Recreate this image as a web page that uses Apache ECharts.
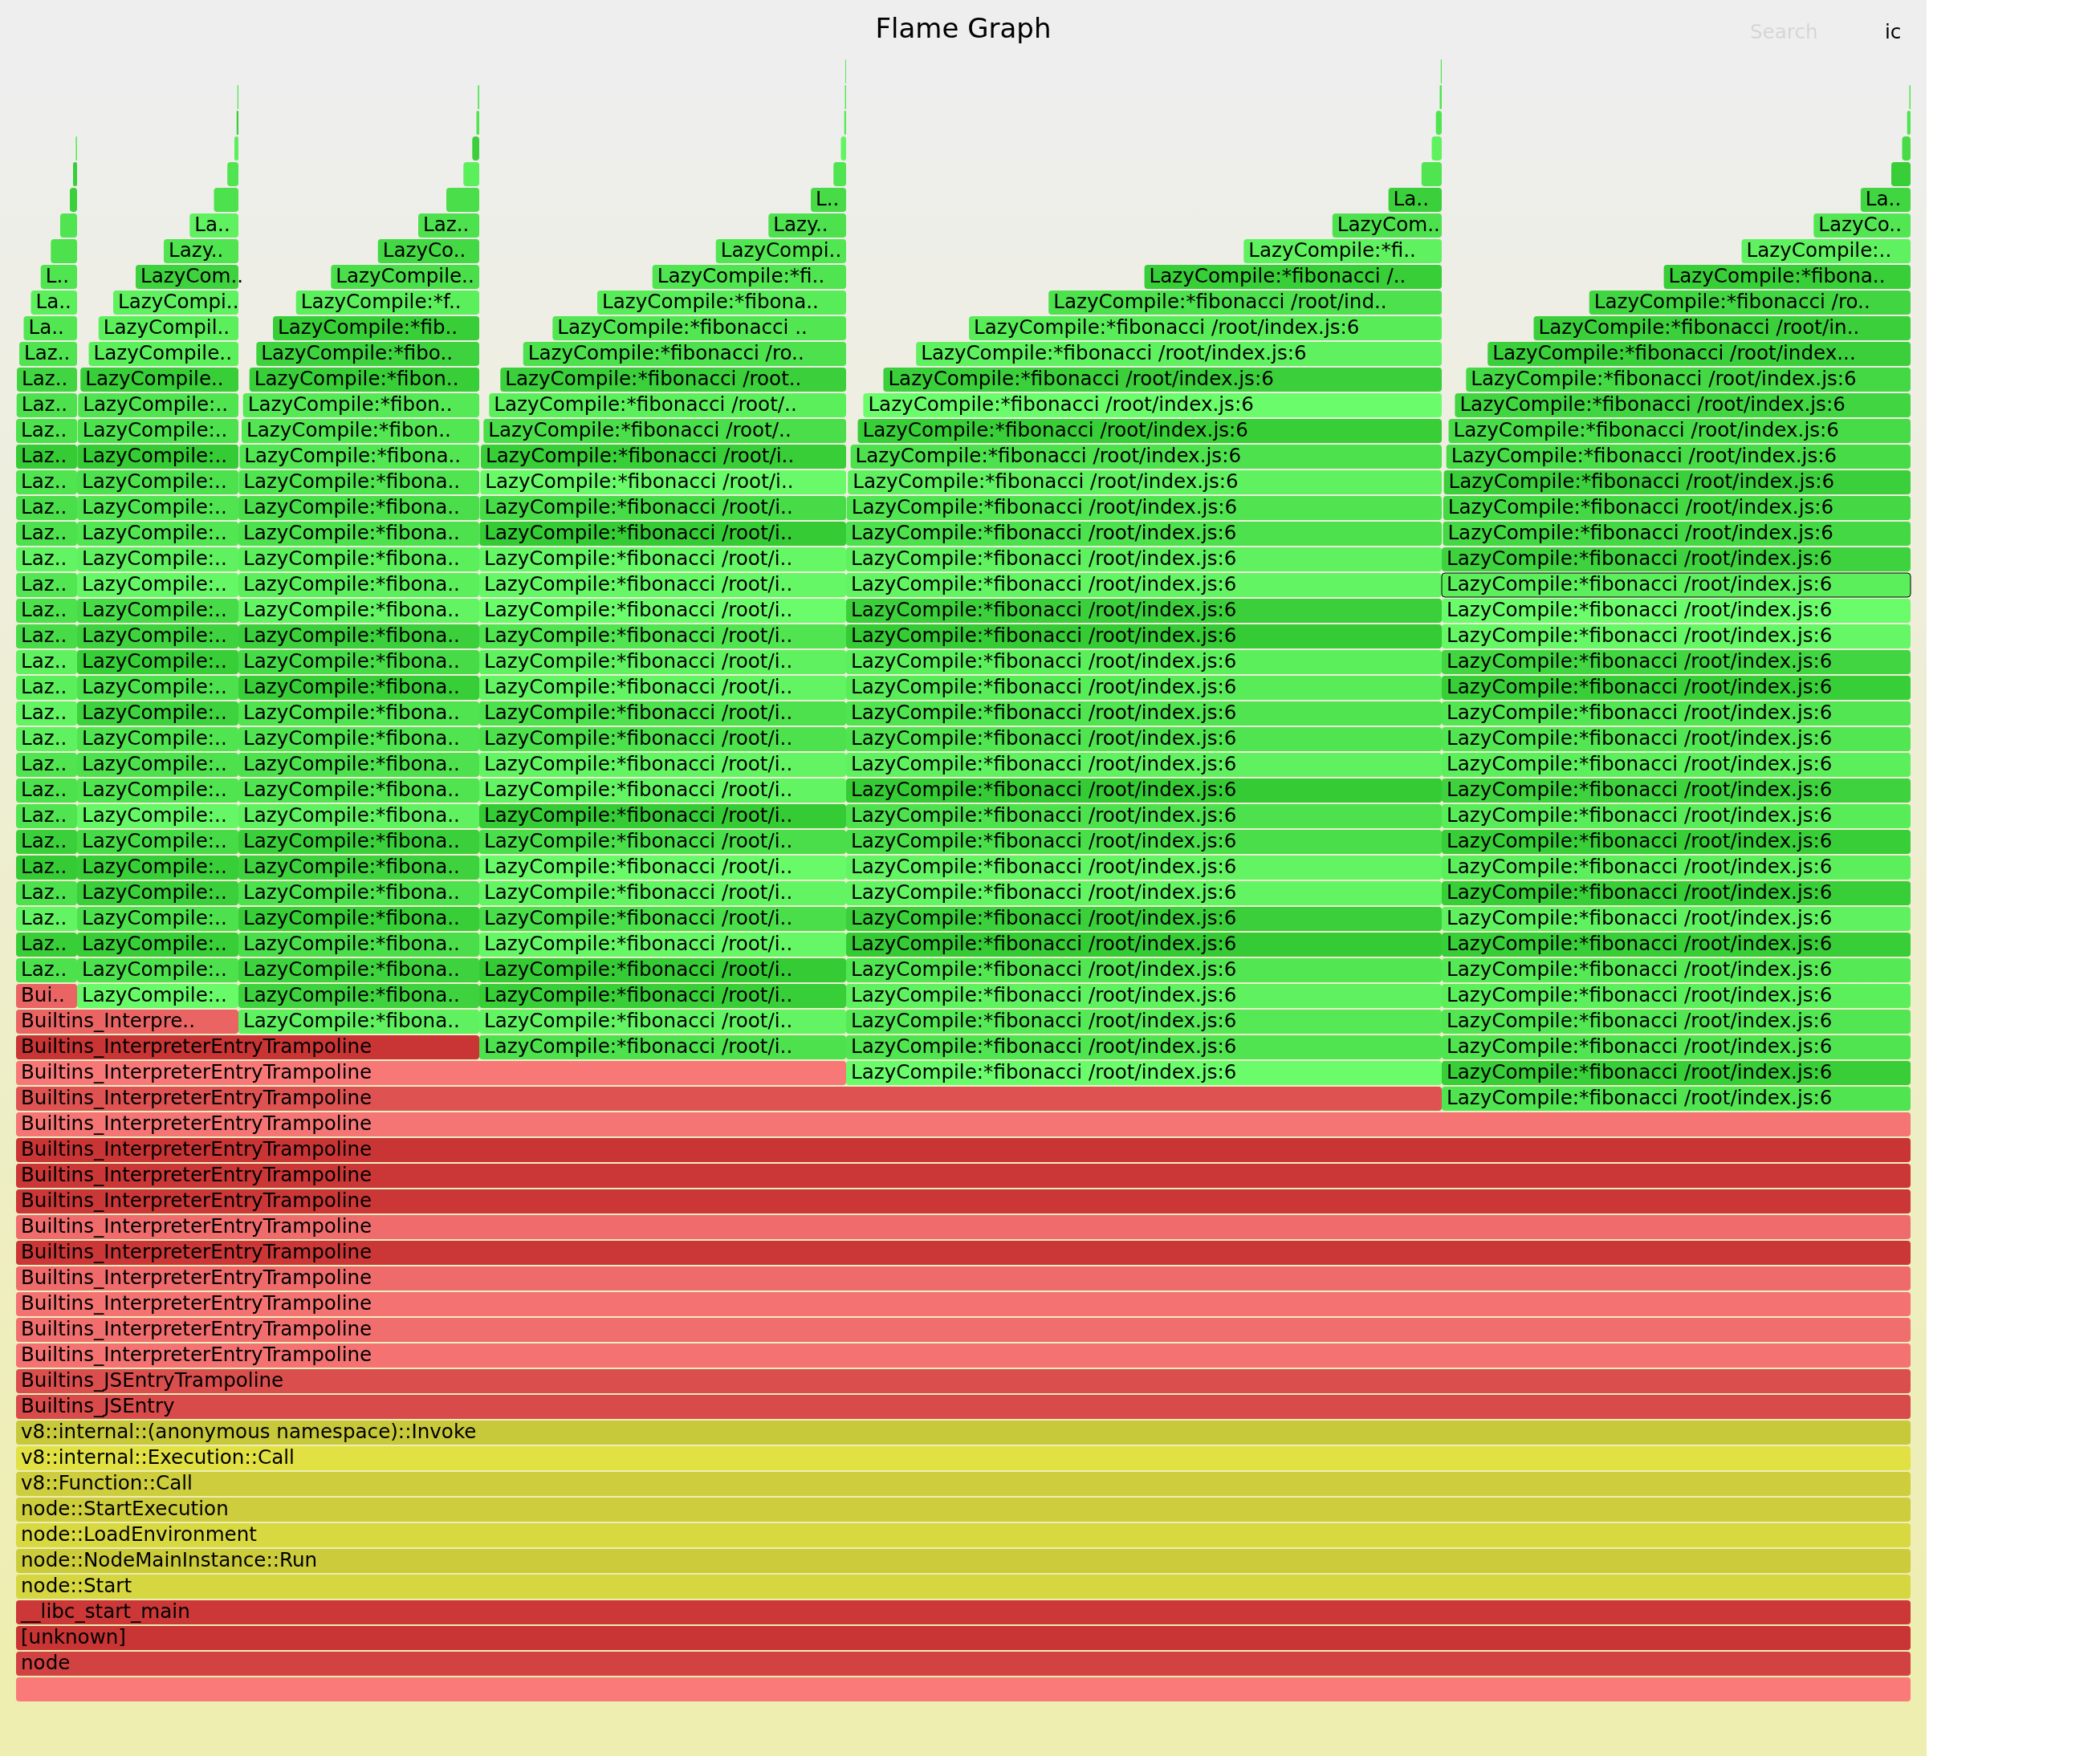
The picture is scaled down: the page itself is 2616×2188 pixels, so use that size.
<!DOCTYPE html>
<html><head><meta charset="utf-8">
<script src="https://cdn.jsdelivr.net/npm/echarts@6/dist/echarts.min.js"></script>
<style>html,body{margin:0;padding:0;background:#ffffff;}#chart{width:2616px;height:2188px;}</style>
</head><body><div id="chart"></div>
<script>
// ---- data (sample positions, total samples = 2360) ----
const TOTAL_SAMPLES = 2360;
const MAX_DEPTH = 64;
const FIB_NAME = 'LazyCompile:*fibonacci /root/index.js:6';
const INTERP_NAME = 'Builtins_InterpreterEntryTrampoline';

const baseNames = ['', 'node', '[unknown]', '__libc_start_main', 'node::Start',
  'node::NodeMainInstance::Run', 'node::LoadEnvironment', 'node::StartExecution',
  'v8::Function::Call', 'v8::internal::Execution::Call',
  'v8::internal::(anonymous namespace)::Invoke', 'Builtins_JSEntry', 'Builtins_JSEntryTrampoline'];
const baseKinds = ['red','red','red','red','yellow','yellow','yellow','yellow','yellow','yellow','yellow','red','red'];
const baseShades = [0.9,0.2,0.02,0.08,0.7,0.5,0.75,0.55,0.55,0.9,0.45,0.3,0.35];

const interpFirstDepth = 13;
const interpEnds = [2360,2360,2360,2360,2360,2360,2360,2360,2360,2360,1776,1034,577,277,76];
const interpShades = [0.8,0.75,0.8,0.7,0.05,0.72,0.05,0.05,0.02,0.82,0.4,0.88,0.02,0.62,0.62];

const towerFirstDepth = [28,27,26,25,24,23];
const towerEnds = [76,277,577,1034,1776,2360];

const towerAStarts = [
 0,0,0,0,0,0,0,0,0,0,
 0,0,0,0,0,0,0,0,0,0,
 0,0,0.7,1,4,9.5,18.5,30.7,43.3,55,
 67,71,74.3];
const towerAShades = [0.45,0.1,0.8,0.45,0.05,0.15,0.5,0.45,0.5,0.75,0.8,0.7,0.75,0.35,0.45,0.55,0.8,0.45,0.4,0.5,0.05,0.45,0.45,0.25,0.5,0.55,0.7,0.5,0.45,0.5,0.15,0.1,0.7];

const towerBStarts = [
 76,76,76,76,76,76,76,76,76,76,
 76,76,76,76,76,76,76,76,76,76,
 76,76.3,76.7,77.3,80.2,90.5,102.8,121,149,184,
 216.3,246.5,263.2,272,274.8,275.8];
const towerBShades = [0.9,0.45,0.1,0.45,0.15,0.1,0.35,0.85,0.5,0.45,0.5,0.2,0.45,0.1,0.2,0.35,0.85,0.75,0.55,0.5,0.45,0.05,0.45,0.5,0.1,0.7,0.7,0.75,0.2,0.5,0.75,0.45,0.5,0.7,0.1,0.5];

const towerCStarts = [
 277,277,277,277,277,277,277,277,277,277,
 277,277,277,277,277,277,277,277,277,277,
 277,277.3,278.3,281,282.7,290.7,299.3,320,348.7,392.3,
 450.7,501,536,557.3,568.3,573.5,575.3];
const towerCShades = [0.75,0.2,0.2,0.4,0.1,0.45,0.2,0.15,0.75,0.5,0.45,0.5,0.5,0.1,0.35,0.15,0.8,0.7,0.7,0.45,0.4,0.5,0.55,0.55,0.6,0.1,0.2,0.1,0.7,0.4,0.3,0.45,0.4,0.7,0.15,0.5,0.5];

const towerDStarts = [
 577,577,577,577,577,577,577,577,577,577,
 577,577,577,577,577,577,577,577,577,577,
 577.3,577.5,578.3,579,582.3,589.3,603.3,631.7,668.3,724,
 792.7,871.7,937.3,990,1018.3,1027.5,1031.7,1032.5,1033];
const towerDShades = [0.45,0.8,0.1,0.05,0.85,0.4,0.8,0.9,0.4,0.05,0.8,0.8,0.45,0.45,0.8,0.75,0.5,0.95,0.85,0.85,0.05,0.35,0.9,0.1,0.4,0.7,0.15,0.45,0.55,0.65,0.5,0.55,0.45,0.35,0.5,0.8,0.6,0.6,0.6];

const towerEStarts = [
 1034,1034,1034,1034,1034,1034,1034,1034,1034,1034,
 1034,1034,1034,1034,1034,1034,1034,1034,1034,1034,
 1034,1034,1034.7,1036.2,1039.6,1048.5,1055.4,1080.4,1121.2,1187,
 1286.2,1405.6,1529.3,1639.8,1709.6,1750.8,1763.5,1768.7,1773.5,1774.8];
const towerEShades = [0.95,0.5,0.6,0.75,0.55,0.05,0.15,0.8,0.8,0.4,0.45,0.05,0.75,0.5,0.5,0.65,0.7,0.05,0.15,0.8,0.75,0.45,0.5,0.75,0.45,0.1,0.95,0.15,0.75,0.65,0.45,0.1,0.75,0.45,0.15,0.5,0.75,0.5,0.5,0.5];

const towerFStarts = [
 1776,1776,1776,1776,1776,1776,1776,1776,1776,1776,
 1776,1776,1776,1776,1776,1776,1776,1776,1776,1776,
 1776,1776,1777.4,1777.8,1778.6,1781.7,1784.5,1792.4,1806.3,1833.2,
 1890.5,1959.7,2052.6,2149.5,2239.3,2297.8,2336,2349.5,2355.7,2358.5];
const towerFShades = [0.5,0.1,0.5,0.55,0.7,0.6,0.1,0.75,0.1,0.7,0.1,0.65,0.2,0.7,0.55,0.55,0.1,0.25,0.85,0.95,0.7,0.2,0.3,0.3,0.15,0.35,0.35,0.25,0.3,0.15,0.15,0.25,0.1,0.75,0.55,0.25,0.1,0.35,0.5,0.5];

const hoveredTower = 5, hoveredDepth = 43;

// ---- build frames ----
const towerStarts = [towerAStarts,towerBStarts,towerCStarts,towerDStarts,towerEStarts,towerFStarts];
const towerShades = [towerAShades,towerBShades,towerCShades,towerDShades,towerEShades,towerFShades];
const frames = [];
baseNames.forEach((n, d) => frames.push([0, TOTAL_SAMPLES, d, n, baseKinds[d], baseShades[d], 0]));
interpEnds.forEach((e, i) => frames.push([0, e, interpFirstDepth + i, INTERP_NAME, 'red', interpShades[i], 0]));
towerStarts.forEach((starts, t) => {
  starts.forEach((s, i) => {
    const d = towerFirstDepth[t] + i;
    frames.push([s, towerEnds[t], d, FIB_NAME, 'green', towerShades[t][i], (t === hoveredTower && d === hoveredDepth) ? 1 : 0]);
  });
});

function colorFor(kind, v) {
  if (kind === 'red') { const r = Math.round(200 + 55*v), x = Math.round(50 + 80*v); return `rgb(${r},${x},${x})`; }
  if (kind === 'yellow') { const r = Math.round(175 + 55*v), b = Math.round(50 + 20*v); return `rgb(${r},${r},${b})`; }
  const g = Math.round(200 + 55*v), x = Math.round(50 + 60*v); return `rgb(${x},${g},${x})`;
}

const FONT = '24.6px Verdana, "DejaVu Sans", sans-serif';
function renderItem(params, api) {
  const s = api.value(0), e = api.value(1), d = api.value(2);
  const f = frames[params.dataIndex];
  const name = f[3], kind = f[4], v = f[5], hov = f[6];
  const p0 = api.coord([s, d + 1]);
  const p1 = api.coord([e, d]);
  const x = p0[0], y = p0[1] + 2, w = p1[0] - p0[0], h = p1[1] - p0[1] - 2;
  const children = [{
    type: 'rect',
    shape: { x: x, y: y, width: w, height: h, r: Math.min(4, w / 2) },
    style: hov ? { fill: colorFor(kind, v), stroke: '#000', lineWidth: 1 } : { fill: colorFor(kind, v) }
  }];
  const chars = Math.floor(w / (24 * 0.59));
  if (chars >= 3 && name.length) {
    let t = name.substr(0, chars);
    if (chars < name.length) t = t.slice(0, -2) + '..';
    children.push({
      type: 'text',
      style: { text: t, x: x + 6, y: y + 16, font: FONT, fill: '#000', textAlign: 'left', textVerticalAlign: 'middle' }
    });
  }
  return { type: 'group', children: children };
}

const chart = echarts.init(document.getElementById('chart'), null, { renderer: 'canvas', width: 2616, height: 2188 });
chart.setOption({
  animation: false,
  backgroundColor: '#ffffff',
  graphic: [
    { type: 'rect', z: -100, silent: true, shape: { x: 0, y: 0, width: 2400, height: 2188 },
      style: { fill: new echarts.graphic.LinearGradient(0, 0, 0, 1, [{ offset: 0.05, color: '#eeeeee' }, { offset: 0.95, color: '#eeeeb0' }]) } },
    { type: 'text', z: 100, style: { text: 'Flame Graph', x: 1200, y: 38, font: '34px Verdana, "DejaVu Sans", sans-serif', fill: '#000', textAlign: 'center', textVerticalAlign: 'middle' } },
    { type: 'text', z: 100, style: { text: 'Search', x: 2180, y: 42, font: FONT, fill: 'rgba(0,0,0,0.1)', textAlign: 'left', textVerticalAlign: 'middle' } },
    { type: 'text', z: 100, style: { text: 'ic', x: 2348, y: 42, font: FONT, fill: '#000', textAlign: 'left', textVerticalAlign: 'middle' } }
  ],
  grid: { left: 20, right: 236, top: 72, bottom: 68 },
  xAxis: { type: 'value', min: 0, max: TOTAL_SAMPLES, show: false },
  yAxis: { type: 'value', min: 0, max: MAX_DEPTH, show: false },
  series: [{
    type: 'custom',
    renderItem: renderItem,
    clip: false,
    encode: { x: [0, 1], y: 2 },
    data: frames.map(f => [f[0], f[1], f[2]])
  }]
});
</script>
</body></html>
